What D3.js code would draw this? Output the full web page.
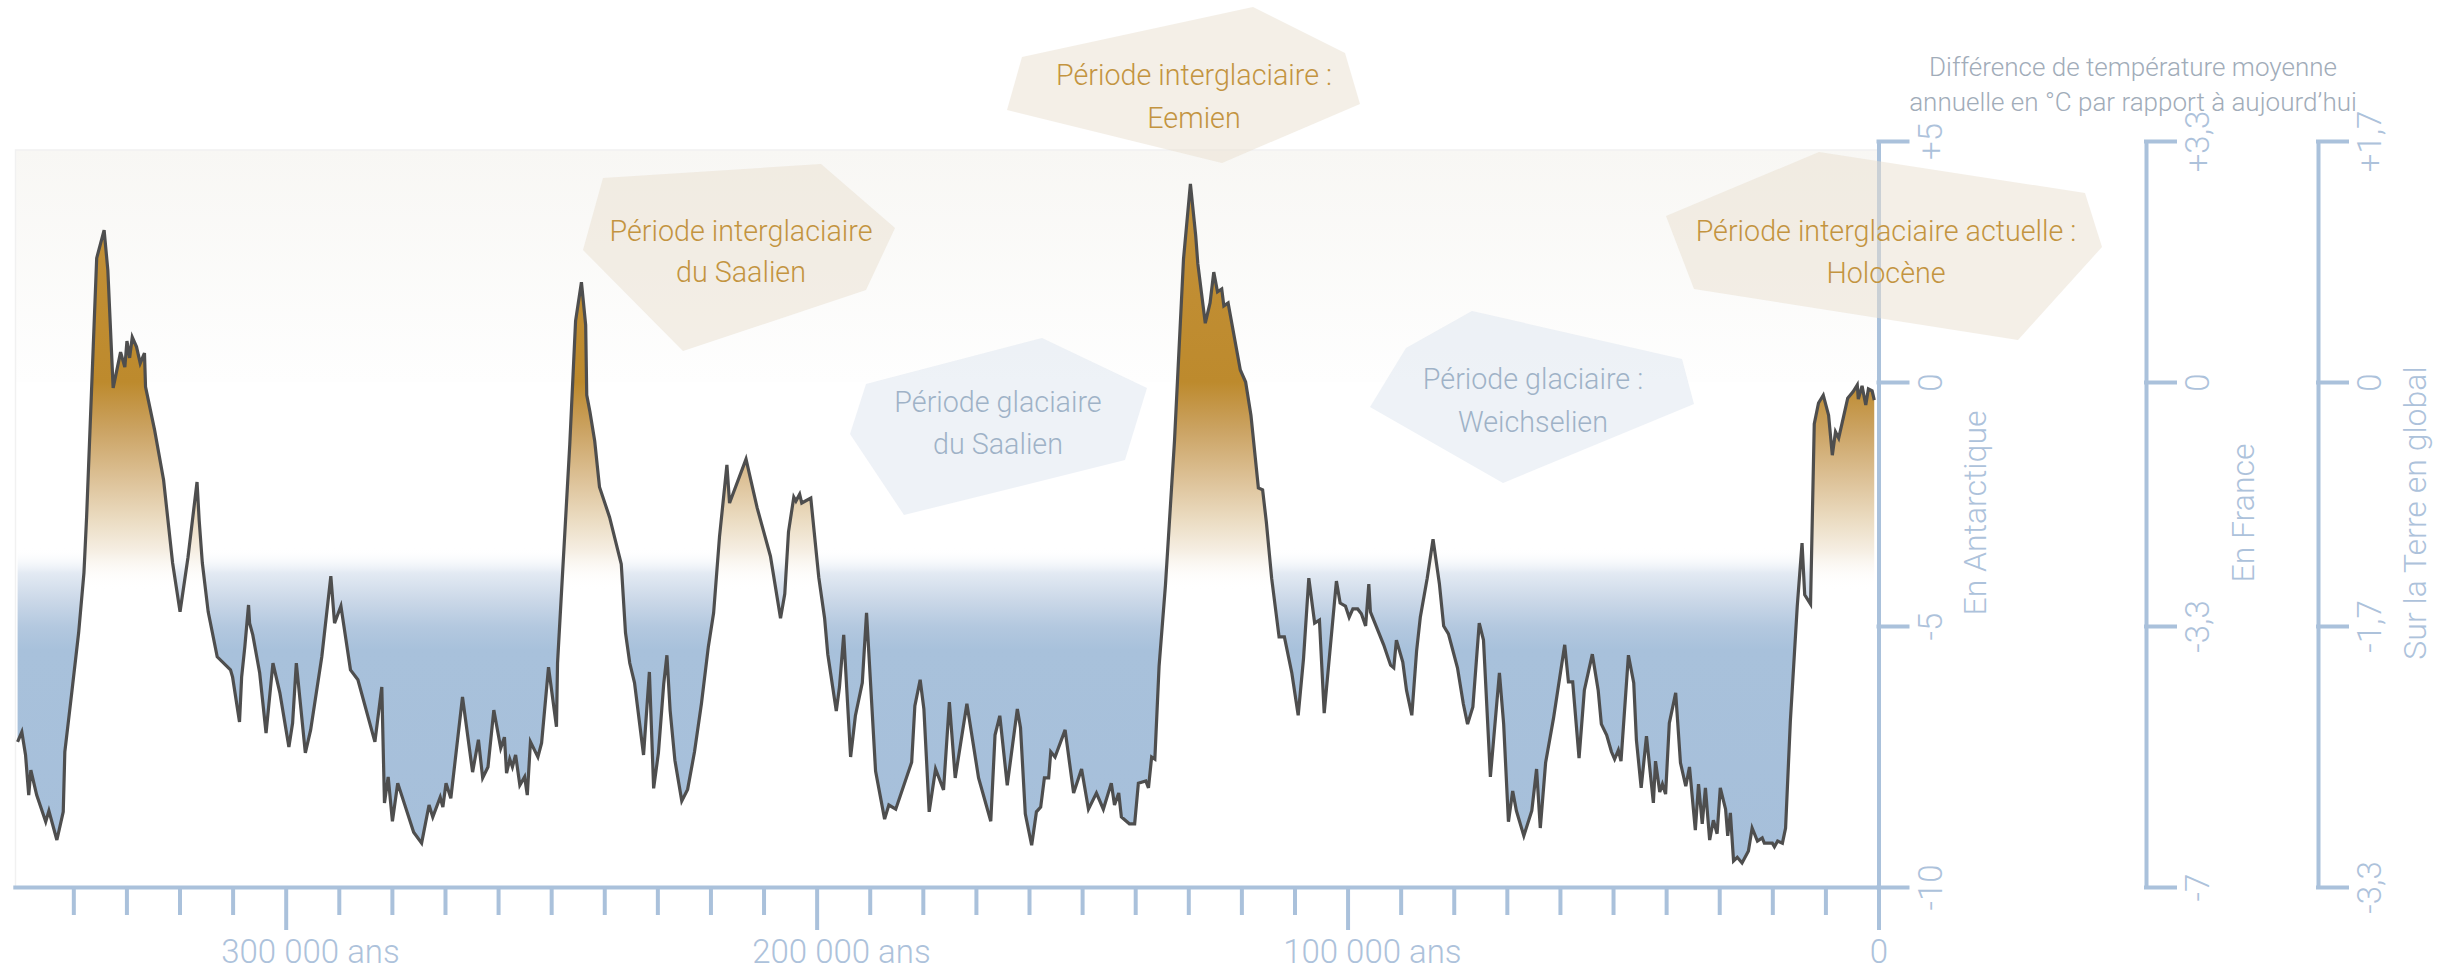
<!DOCTYPE html>
<html lang="fr">
<head>
<meta charset="utf-8">
<title>Températures en Antarctique sur 350 000 ans</title>
<script src="https://cdn.jsdelivr.net/npm/d3@7"></script>
<style>
  html, body { margin: 0; padding: 0; background: #ffffff; }
  svg { display: block; }
  text { font-family: Roboto, "Noto Sans", sans-serif; font-weight: 300; }
</style>
</head>
<body>
<svg id="chart" width="2448" height="973"></svg>
<script>
// ---- Data -------------------------------------------------------------
// Age in thousands of years before present
const ageKyr = [
  350.5,349.7,349.0,348.4,348.0,346.9,345.2,344.6,343.1,341.9,
  341.6,340.3,339.0,338.0,337.5,335.6,334.2,333.5,332.5,331.1,
  330.3,329.9,329.4,328.9,328.1,327.4,326.6,326.4,324.7,323.0,
  321.3,319.9,318.4,316.7,316.3,315.7,314.6,312.9,310.4,310.0,
  308.7,308.3,307.7,307.0,306.8,306.2,304.9,303.7,302.4,301.1,
  299.4,298.7,298.0,296.3,295.3,293.2,291.5,290.8,289.6,287.8,
  286.4,283.2,281.9,281.4,280.7,279.9,278.9,275.9,274.4,273.0,
  272.3,270.9,270.4,269.8,268.9,266.7,264.8,263.7,262.9,261.9,
  260.8,259.5,258.8,258.4,257.8,257.3,256.7,255.9,255.0,254.5,
  253.9,252.5,251.8,250.5,249.0,248.8,246.5,245.4,244.3,243.5,
  243.3,242.7,241.8,240.9,239.0,236.8,236.0,235.2,234.3,232.6,
  231.5,230.7,229.8,228.8,228.2,227.6,226.7,225.4,224.3,223.0,
  221.7,220.4,219.4,218.3,216.9,216.4,213.3,211.2,208.7,206.8,
  206.0,205.3,204.3,203.9,203.2,202.8,201.1,199.6,198.5,197.9,
  196.3,195.7,194.9,193.6,192.7,191.4,190.6,188.9,187.2,186.4,
  185.1,182.1,181.5,180.5,179.8,178.8,177.6,176.1,175.0,173.9,
  171.7,169.5,167.2,166.4,165.5,164.1,162.2,161.6,160.7,159.5,
  158.6,157.8,157.1,156.3,155.9,155.1,153.2,151.6,150.1,148.8,
  147.3,146.0,144.5,143.9,143.1,142.6,141.1,140.1,139.4,138.0,
  137.5,136.9,136.3,135.5,134.3,132.6,130.9,129.6,128.6,128.2,
  126.8,125.9,125.2,124.5,123.7,123.3,122.5,120.2,119.2,118.2,
  116.8,116.0,115.3,114.3,112.9,111.9,110.5,109.3,108.3,107.3,
  106.2,105.3,104.4,102.1,101.4,100.4,99.7,99.0,98.1,97.4,
  96.6,96.0,95.7,93.2,91.9,91.3,90.8,89.6,88.9,87.9,
  87.0,86.3,85.0,83.9,82.7,81.9,81.0,79.3,78.2,77.4,
  76.4,75.2,74.4,73.1,71.4,70.6,69.7,68.9,68.2,66.8,
  65.3,64.4,63.7,62.7,61.2,59.1,58.4,57.6,56.4,55.4,
  53.9,52.8,52.2,51.2,50.3,49.7,49.0,48.5,47.1,46.1,
  45.6,44.7,43.7,42.4,42.0,41.2,40.7,40.1,39.4,38.2,
  37.3,36.3,35.6,34.5,33.9,33.2,32.6,31.8,31.1,30.4,
  29.8,28.8,28.4,27.9,27.3,26.6,25.7,24.5,23.8,22.8,
  21.9,21.5,20.0,19.6,19.0,18.1,17.5,16.6,15.3,14.4,
  13.9,12.8,12.1,11.3,10.4,9.4,8.7,8.1,7.5,6.6,
  5.8,4.8,4.0,3.8,3.1,2.4,1.9,1.2,0.8
];

// Antarctic temperature difference vs today (°C)
const tempAntarctic = [
  -7.22,-7.03,-7.47,-8.24,-7.76,-8.24,-8.75,-8.54,-9.10,-8.56,
  -7.41,-6.28,-5.13,-3.91,-2.77,2.57,3.15,2.32,-0.12,0.62,
  0.31,0.85,0.50,0.93,0.73,0.39,0.60,-0.10,-0.98,-2.01,
  -3.71,-4.71,-3.59,-2.05,-2.83,-3.71,-4.71,-5.59,-5.84,-5.98,
  -6.84,-5.98,-5.40,-4.57,-4.94,-5.17,-5.90,-7.05,-5.71,-6.28,
  -7.32,-6.86,-5.71,-7.43,-6.99,-5.59,-3.98,-4.94,-4.59,-5.84,
  -6.03,-7.22,-6.17,-8.39,-7.89,-8.74,-8.01,-8.95,-9.16,-8.43,
  -8.66,-8.28,-8.47,-8.01,-8.30,-6.36,-7.80,-7.18,-7.91,-7.70,
  -6.61,-7.34,-7.13,-7.82,-7.55,-7.70,-7.47,-8.05,-7.89,-8.24,
  -7.22,-7.51,-7.24,-5.79,-6.93,-5.71,-1.29,1.27,2.07,1.18,
  -0.27,-0.61,-1.21,-2.15,-2.77,-3.73,-5.13,-5.71,-6.09,-7.47,
  -5.88,-8.11,-7.43,-6.11,-5.56,-6.61,-7.57,-8.35,-8.13,-7.41,
  -6.49,-5.40,-4.73,-3.18,-1.70,-2.48,-1.58,-2.58,-3.57,-4.84,
  -4.34,-3.07,-2.36,-2.44,-2.30,-2.48,-2.38,-4.00,-4.84,-5.54,
  -6.63,-6.17,-5.17,-7.51,-6.72,-6.09,-4.73,-7.78,-8.70,-8.43,
  -8.51,-7.61,-6.53,-6.03,-6.59,-8.56,-7.74,-8.14,-6.46,-7.91,
  -6.49,-7.91,-8.74,-7.09,-6.72,-8.05,-6.59,-6.95,-8.60,-9.20,
  -8.56,-8.47,-7.91,-7.91,-7.41,-7.51,-6.99,-8.20,-7.74,-8.51,
  -8.20,-8.51,-8.01,-8.43,-8.20,-8.66,-8.79,-8.79,-8.01,-7.97,
  -8.10,-7.51,-7.55,-5.77,-4.16,-1.21,2.55,4.11,3.03,2.45,
  1.22,1.64,2.28,1.87,1.93,1.58,1.64,0.25,0.00,-0.68,
  -2.17,-2.21,-2.87,-4.02,-5.21,-5.21,-5.90,-6.71,-5.63,-4.02,
  -4.94,-4.88,-6.67,-4.08,-4.53,-4.59,-4.82,-4.65,-4.65,-4.75,
  -5.00,-4.14,-4.71,-5.36,-5.75,-5.80,-5.27,-5.69,-6.23,-6.71,
  -5.48,-4.82,-4.02,-3.22,-4.14,-5.00,-5.15,-5.80,-6.49,-6.88,
  -6.55,-4.94,-5.27,-7.89,-5.90,-6.88,-8.75,-8.16,-8.54,-9.02,
  -8.54,-7.74,-8.87,-7.62,-6.76,-5.36,-6.07,-6.07,-7.53,-6.23,
  -5.54,-6.23,-6.88,-7.09,-7.41,-7.55,-7.38,-7.59,-5.56,-6.09,
  -7.18,-8.10,-7.11,-8.39,-7.59,-8.18,-8.03,-8.22,-6.86,-6.28,
  -7.62,-8.07,-7.70,-8.91,-8.03,-8.79,-8.10,-9.10,-8.72,-8.98,
  -8.10,-8.51,-9.02,-8.58,-9.50,-9.43,-9.54,-9.31,-8.87,-9.12,
  -9.06,-9.16,-9.16,-9.23,-9.12,-9.16,-8.87,-6.82,-4.59,-3.30,
  -4.36,-4.55,-0.86,-0.43,-0.27,-0.68,-1.50,-1.02,-1.15,-0.72,
  -0.33,-0.20,-0.06,-0.35,-0.08,-0.47,-0.14,-0.18,-0.37
];

// Temperature ticks (Antarctic scale) and the labels of the three axes
const yTicks = [5, 0, -5, -10];
const antarcticLabels = ["+5", "0", "-5", "-10"];
const franceLabels = ["+3,3", "0", "-3,3", "-7"];
const globalLabels = ["+1,7", "0", "-1,7", "-3,3"];
const axisTitles = ["En Antarctique", "En France", "Sur la Terre en global"];

// Time ticks (thousands of years)
const xMajorTicks = [300, 200, 100, 0];
const xMinorTicks = [340, 330, 320, 310, 290, 280, 270, 260, 250, 240, 230, 220, 210,
                     190, 180, 170, 160, 150, 140, 130, 120, 110, 90, 80, 70, 60, 50, 40, 30, 20, 10];

const chartTitle = ["Différence de température moyenne", "annuelle en °C par rapport à aujourd’hui"];

// Period labels
const periodKinds = ["inter", "inter", "glacial", "glacial", "inter"];
const periodLabels = [
  ["Période interglaciaire", "du Saalien"],
  ["Période interglaciaire :", "Eemien"],
  ["Période glaciaire", "du Saalien"],
  ["Période glaciaire :", "Weichselien"],
  ["Période interglaciaire actuelle :", "Holocène"]
];

// ---- Layout -----------------------------------------------------------
const plotLeft = 12.8, plotRight = 1878.5, plotTop = 141, plotBottom = 887;
const axisX = { antarctic: 1878.5, france: 2146, global: 2318 };
const titleX = { antarctic: 1986, france: 2254, global: 2426 };
const axisColor = "#aac1db";
const axisTextColor = "#adc2db";
const timeLabelSize = "33px";

// Period badge outlines and text anchors (pixel layout)
const badgeShapes = [
  [[603,178],[821,164],[895,228],[866,290],[683,351],[583,250]],
  [[1022,57],[1253,7],[1345,53],[1360,104],[1222,163],[1007,110]],
  [[1042,338],[1147,388],[1125,460],[904,515],[850,434],[866,384]],
  [[1472,311],[1682,359],[1694,404],[1503,483],[1370,407],[1406,348]],
  [[1666,216],[1819,152],[2085,193],[2102,247],[2018,340],[1694,289]]
];
const badgeText = [
  { x: 741,  y: [241, 282] },
  { x: 1194, y: [85, 128] },
  { x: 998,  y: [412, 454] },
  { x: 1533, y: [389, 432] },
  { x: 1886, y: [241, 283] }
];

// ---- Scales -----------------------------------------------------------
const x = d3.scaleLinear().domain([351.4, 0]).range([plotLeft, plotRight]);
const y = d3.scaleLinear().domain(yTicks).range([141, 382, 626, 887]);

const svg = d3.select("#chart");
const H = 973;
const defs = svg.append("defs");

function addGradient(id, stops) {
  const g = defs.append("linearGradient")
    .attr("id", id)
    .attr("gradientUnits", "userSpaceOnUse")
    .attr("x1", 0).attr("x2", 0).attr("y1", 0).attr("y2", H);
  stops.forEach(([py, color, op]) => {
    g.append("stop")
      .attr("offset", py / H)
      .attr("stop-color", color)
      .attr("stop-opacity", op);
  });
}

// Warm fill: below the curve, golden on top and fading out near -4 °C
addGradient("warmFill", [
  [180, "#c4933b", 1],
  [300, "#c08d32", 1],
  [382, "#bd8a2d", 1],
  [430, "#cba363", 1],
  [480, "#ddc298", 1],
  [520, "#ebdcc2", 1],
  [552, "#f6efe4", 1],
  [590, "#ffffff", 0]
]);
// Cold fill: above the curve, fading in from white to steel blue
addGradient("coldFill", [
  [548, "#ffffff", 0],
  [573, "#e3eaf3", 1],
  [600, "#cbd8e8", 1],
  [627, "#b3c8df", 1],
  [650, "#a8c1db", 1],
  [887, "#a6bfda", 1]
]);
// Pale backdrop above 0 °C
addGradient("backdrop", [
  [150, "#f8f7f4", 1],
  [382, "#fefefe", 1]
]);

// ---- Backdrop ---------------------------------------------------------
svg.append("rect")
  .attr("x", 15.5).attr("y", 150)
  .attr("width", plotRight - 15.5).attr("height", y(0) - 150)
  .attr("fill", "url(#backdrop)");
svg.append("path")
  .attr("d", `M15.5,${plotBottom}V150H${plotRight}`)
  .attr("fill", "none")
  .attr("stroke", "#f1f1f1")
  .attr("stroke-width", 1.5);

// ---- Temperature curve -----------------------------------------------
const series = d3.zip(ageKyr, tempAntarctic);

svg.append("path")
  .datum(series)
  .attr("fill", "url(#warmFill)")
  .attr("d", d3.area()
    .x(d => x(d[0]))
    .y0(plotBottom)
    .y1(d => y(d[1])));

svg.append("path")
  .datum(series)
  .attr("fill", "url(#coldFill)")
  .attr("d", d3.area()
    .x(d => x(d[0]))
    .y0(plotTop)
    .y1(d => y(d[1])));

svg.append("path")
  .datum(series)
  .attr("fill", "none")
  .attr("stroke", "#4e4e4e")
  .attr("stroke-width", 3.2)
  .attr("stroke-linejoin", "miter")
  .attr("d", d3.line()
    .x(d => x(d[0]))
    .y(d => y(d[1])));

// ---- Axes -------------------------------------------------------------
function styleAxis(g, size) {
  g.attr("font-size", null).attr("font-family", null);
  g.selectAll("path.domain, .tick line")
    .attr("stroke", axisColor)
    .attr("stroke-width", 4);
  g.selectAll("text")
    .attr("fill", axisTextColor)
    .style("font-size", size)
    .style("font-family", "Roboto, 'Noto Sans', sans-serif")
    .style("font-weight", 300);
}

// Time axis: minor ticks every 10 000 years, labelled major ticks
const xMinor = svg.append("g")
  .attr("transform", `translate(0,${plotBottom})`)
  .call(d3.axisBottom(x).tickValues(xMinorTicks).tickSize(28).tickSizeOuter(0).tickFormat(""));
styleAxis(xMinor, timeLabelSize);
xMinor.selectAll(".tick text").remove();

const xMajor = svg.append("g")
  .attr("transform", `translate(0,${plotBottom})`)
  .call(d3.axisBottom(x).tickValues(xMajorTicks).tickSize(43).tickPadding(10).tickSizeOuter(0)
    .tickFormat(d => d === 0 ? "0" : `${d} 000 ans`));
styleAxis(xMajor, timeLabelSize);
xMajor.select("path.domain").remove();

// The number sits roughly centred on its tick, the unit trails after it
xMajor.selectAll(".tick text").each(function () {
  const t = d3.select(this);
  const label = t.text();
  const idx = label.indexOf(" ans");
  if (idx < 0) return;
  const probe = svg.append("text")
    .style("font-size", timeLabelSize)
    .style("font-weight", 300)
    .text(label.slice(0, idx));
  const w = probe.node().getComputedTextLength();
  probe.remove();
  t.attr("text-anchor", "start").attr("x", -w / 2 - 6);
});

// Three temperature axes sharing the same tick positions
function tempAxis(xPos, labels, title, titlePos) {
  const g = svg.append("g")
    .attr("transform", `translate(${xPos},0)`)
    .call(d3.axisRight(y).tickValues(yTicks).tickSize(29).tickSizeOuter(0)
      .tickFormat((d, i) => labels[i]));
  styleAxis(g, "33px");
  g.selectAll(".tick line").attr("stroke-linecap", "square");
  g.selectAll(".tick text")
    .attr("x", null)
    .attr("dy", null)
    .attr("text-anchor", "middle")
    .attr("transform", "translate(63,0) rotate(-90)");
  svg.append("text")
    .attr("transform", `translate(${titlePos},513) rotate(-90)`)
    .attr("text-anchor", "middle")
    .attr("fill", axisTextColor)
    .style("font-size", "32px")
    .text(title);
}
tempAxis(axisX.antarctic, antarcticLabels, axisTitles[0], titleX.antarctic);
tempAxis(axisX.france, franceLabels, axisTitles[1], titleX.france);
tempAxis(axisX.global, globalLabels, axisTitles[2], titleX.global);

// Unit title above the axes
svg.append("g")
  .selectAll("text")
  .data(chartTitle)
  .join("text")
  .attr("x", 2133)
  .attr("y", (d, i) => [76, 111][i])
  .attr("text-anchor", "middle")
  .attr("fill", "#a1acb9")
  .style("font-size", "26px")
  .text(d => d);

// ---- Period badges ----------------------------------------------------
const badges = svg.append("g")
  .selectAll("g")
  .data(periodLabels.map((lines, i) => ({ lines, kind: periodKinds[i], shape: badgeShapes[i], pos: badgeText[i] })))
  .join("g");

badges.append("polygon")
  .attr("points", d => d.shape.map(p => p.join(",")).join(" "))
  .attr("fill", d => d.kind === "inter" ? "rgb(233,223,207)" : "rgb(222,230,239)")
  .attr("fill-opacity", 0.5);

badges.each(function (d) {
  d3.select(this).selectAll("text")
    .data(d.lines)
    .join("text")
    .attr("x", d.pos.x)
    .attr("y", (t, i) => d.pos.y[i])
    .attr("text-anchor", "middle")
    .attr("fill", d.kind === "inter" ? "#c39440" : "#9fb2c7")
    .style("font-size", "28.7px")
    .text(t => t);
});
</script>
</body>
</html>
